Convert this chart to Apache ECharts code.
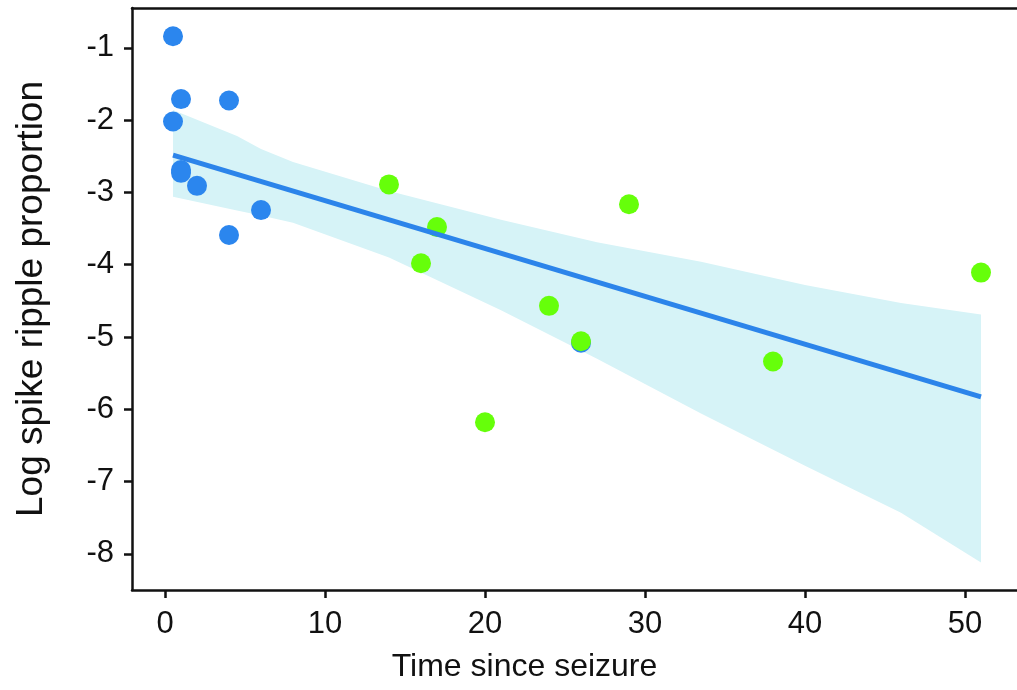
<!DOCTYPE html>
<html>
<head>
<meta charset="utf-8">
<script src="https://cdn.jsdelivr.net/npm/echarts@6/dist/echarts.min.js"></script>
<style>html,body{margin:0;padding:0;background:#fff}#c{width:1017px;height:690px}</style>
</head>
<body>
<div id="c"></div>
<script>
// Early group (blue)
const blueX = [0.5, 1, 4, 0.5, 1, 1, 2, 6, 4, 26];
const blueY = [-0.84, -1.71, -1.73, -2.02, -2.69, -2.73, -2.91, -3.245, -3.59, -5.08];
// Late group (green)
const greenX = [14, 16, 17, 20, 24, 26, 29, 38, 51];
const greenY = [-2.89, -3.98, -3.48, -6.18, -4.57, -5.06, -3.165, -5.34, -4.11];
// Regression fit
const fitX = [0.5, 51];
const fitY = [-2.485, -5.83];
// Confidence band
const ciX = [0.5, 4.5, 6, 8, 14, 21, 27, 33.5, 40, 46, 51];
const ciUpper = [-1.86, -2.22, -2.40, -2.58, -2.98, -3.38, -3.69, -3.96, -4.28, -4.53, -4.69];
const ciLower = [-3.06, -3.25, -3.32, -3.42, -3.90, -4.63, -5.30, -6.06, -6.78, -7.43, -8.12];
// Axis ticks
const xTicks = [0, 10, 20, 30, 40, 50];
const yTicks = [-8, -7, -6, -5, -4, -3, -2, -1];

const chart = echarts.init(document.getElementById('c'), null, {renderer: 'canvas'});
const FONT = 'Liberation Sans, Arial, Helvetica, sans-serif';

const bandData = ciX.map((x, i) => [x, ciUpper[i], ciLower[i]]);

chart.setOption({
  animation: false,
  backgroundColor: '#ffffff',
  grid: {left: 132, top: 8, bottom: 100, right: 0, show: false},
  xAxis: [{
    type: 'value', min: -2.0625, max: 53.25, interval: 10,
    name: 'Time since seizure', nameLocation: 'middle', nameGap: 61,
    nameTextStyle: {fontFamily: FONT, fontSize: 32, color: '#111', padding: [0, 100, 0, 0]},
    axisLine: {show: true, onZero: false, lineStyle: {color: '#111', width: 2.5}},
    axisTick: {show: true, length: 8, lineStyle: {color: '#111', width: 2.5}, customValues: xTicks},
    axisLabel: {fontFamily: FONT, fontSize: 31, color: '#111', margin: 19, customValues: xTicks},
    splitLine: {show: false}
  }, {
    type: 'value', position: 'top', min: -2.0625, max: 53.25,
    axisLine: {show: true, onZero: false, lineStyle: {color: '#111', width: 2.5}},
    axisTick: {show: false}, axisLabel: {show: false}, splitLine: {show: false}
  }],
  yAxis: {
    type: 'value', min: -8.5, max: -0.45,
    name: 'Log spike ripple proportion', nameLocation: 'middle', nameGap: 82,
    nameTextStyle: {fontFamily: FONT, fontSize: 37, color: '#111'},
    axisLine: {show: true, onZero: false, lineStyle: {color: '#111', width: 2.5}},
    axisTick: {show: true, length: 8, lineStyle: {color: '#111', width: 2.5}, customValues: yTicks},
    axisLabel: {fontFamily: FONT, fontSize: 31, color: '#111', margin: 18, customValues: yTicks},
    splitLine: {show: false}
  },
  series: [
    {
      type: 'custom',
      z: 1,
      data: bandData,
      encode: {x: 0, y: [1, 2]},
      renderItem: function (params, api) {
        if (params.dataIndex !== 0) return null;
        const pts = [];
        for (let i = 0; i < ciX.length; i++) pts.push(api.coord([ciX[i], ciUpper[i]]));
        for (let i = ciX.length - 1; i >= 0; i--) pts.push(api.coord([ciX[i], ciLower[i]]));
        return {type: 'polygon', shape: {points: pts}, style: {fill: '#d6f3f7'}};
      },
      silent: true
    },
    {
      type: 'scatter', z: 2, symbolSize: 20,
      data: blueX.map((x, i) => [x, blueY[i]]),
      itemStyle: {color: '#2b86ee', opacity: 1}
    },
    {
      type: 'scatter', z: 3, symbolSize: 20,
      data: greenX.map((x, i) => [x, greenY[i]]),
      itemStyle: {color: '#66ff0a', opacity: 1}
    },
    {
      type: 'line', z: 4, symbol: 'none',
      data: fitX.map((x, i) => [x, fitY[i]]),
      lineStyle: {color: '#2c84ea', width: 5}
    }
  ]
});
</script>
</body>
</html>
